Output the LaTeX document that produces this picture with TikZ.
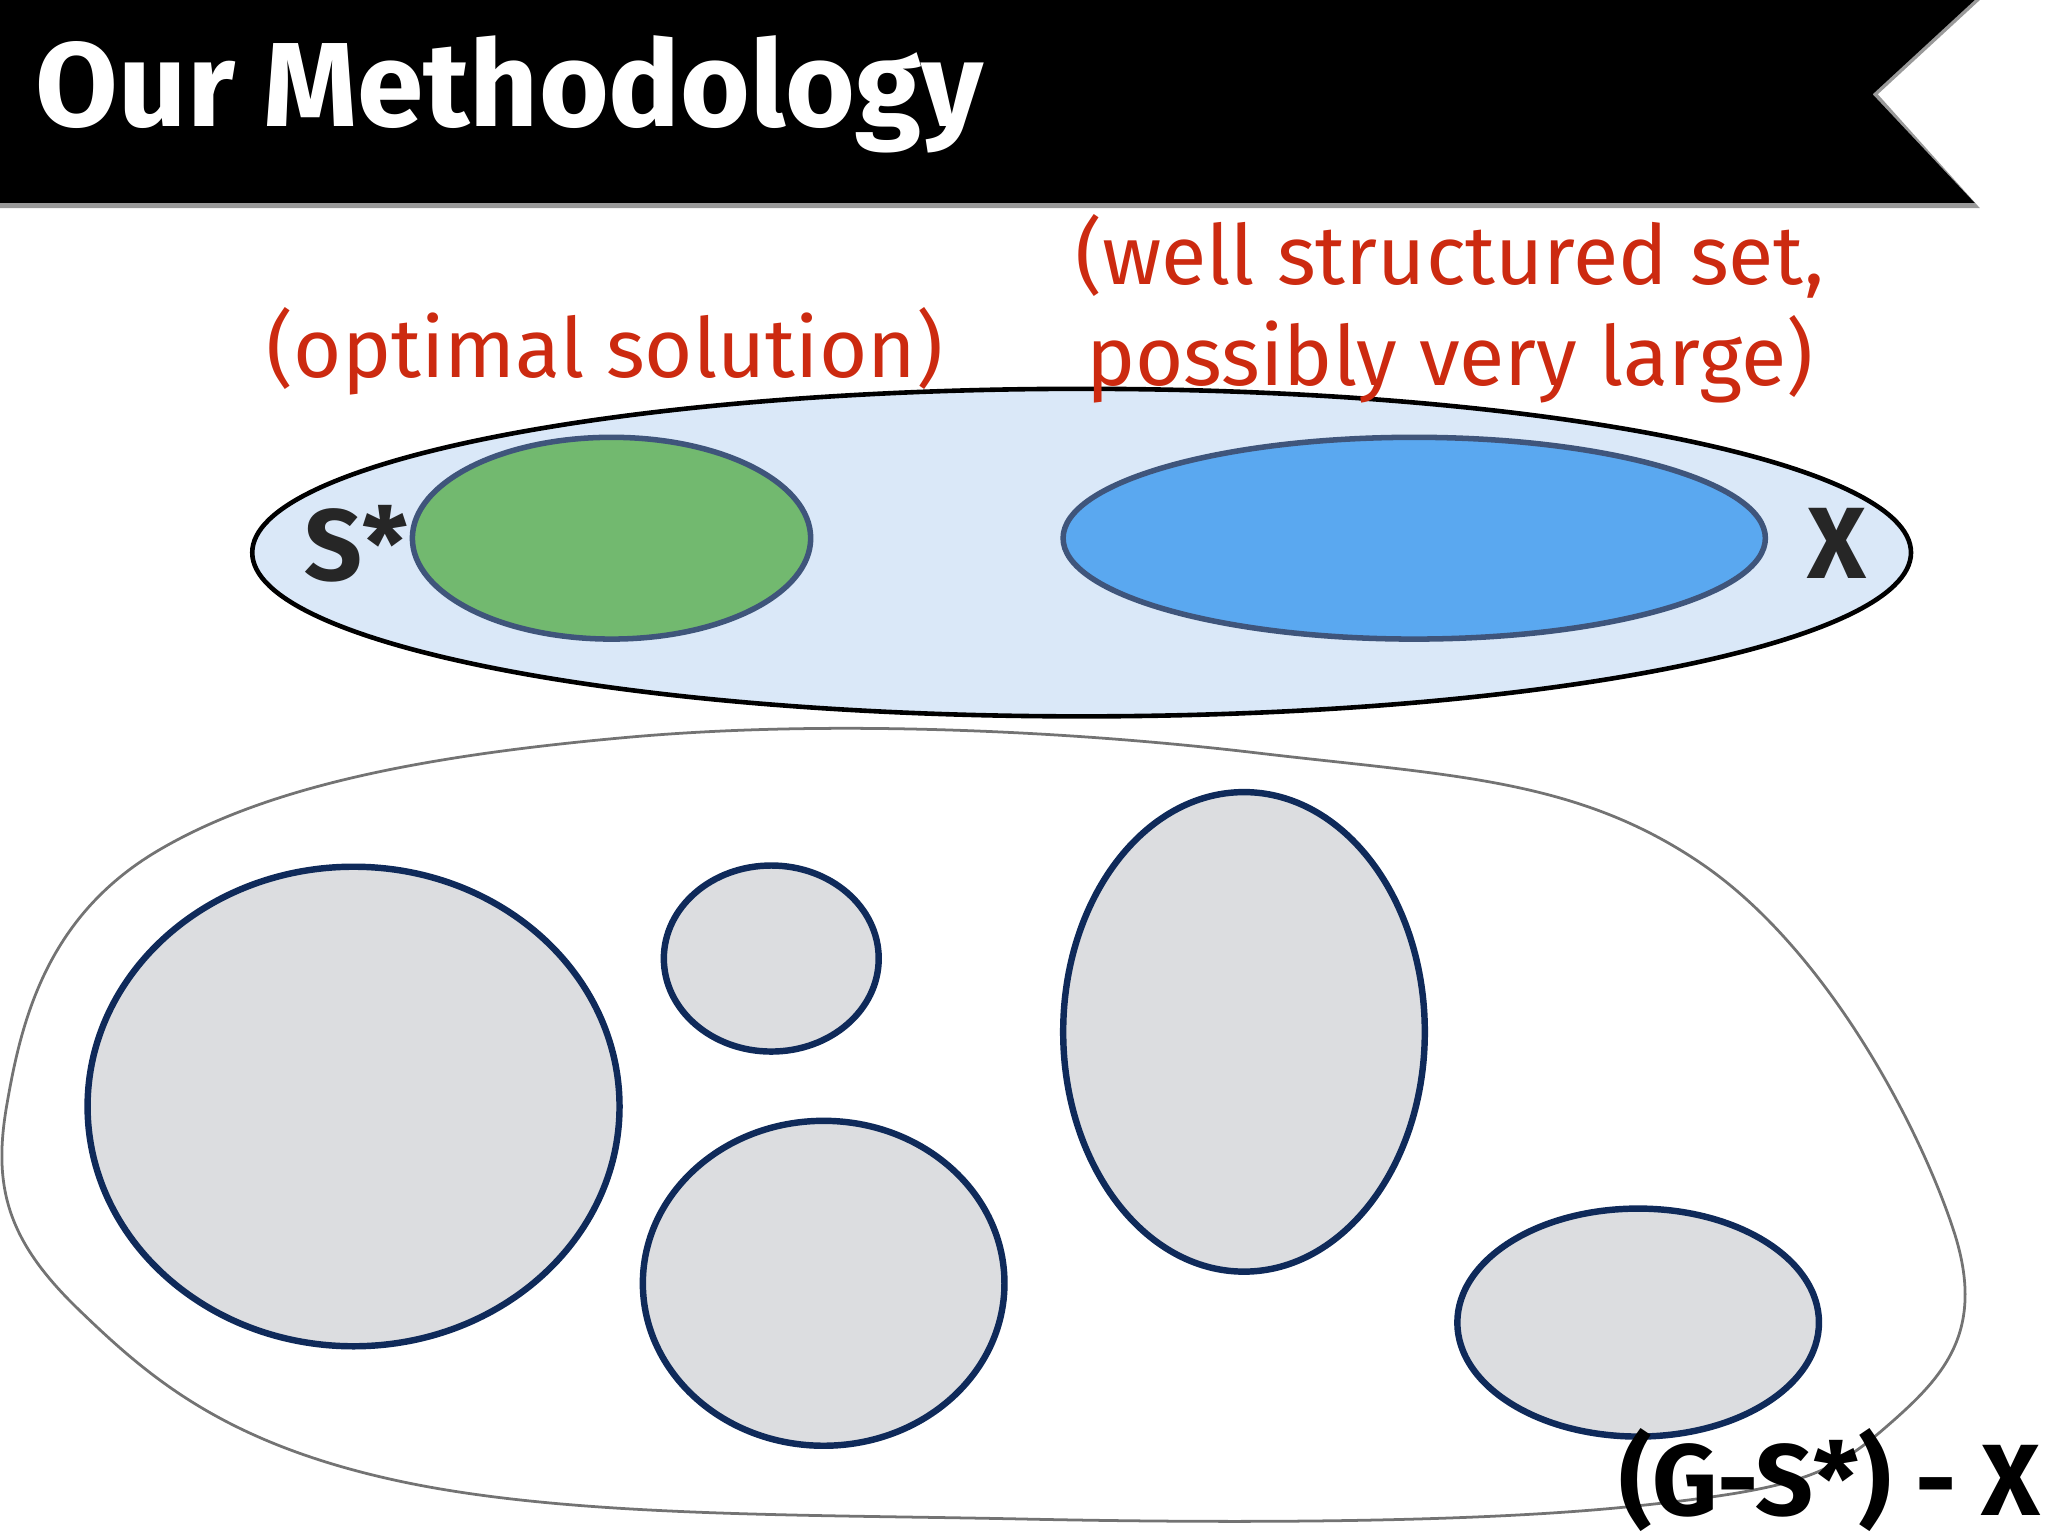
\documentclass[tikz,border=0pt]{standalone}
\usepackage{fontspec}
\setmainfont{Fira Sans}
\usetikzlibrary{positioning, shapes.geometric}
\definecolor{redtext}{HTML}{CC2A10}
\definecolor{setfill}{HTML}{DAE8F8}
\definecolor{optfill}{HTML}{72B96F}
\definecolor{structfill}{HTML}{5AA8F0}
\definecolor{compfill}{HTML}{DCDDE0}
\definecolor{navy}{HTML}{0F2A5A}
\tikzset{
    blob/.style={ellipse, draw=navy, line width=1.4pt, fill=compfill, inner sep=0pt},
    inner/.style={ellipse, draw=navy!80, line width=1.2pt, inner sep=0pt},
    note/.style={text=redtext, font=\fontsize{18}{22}\selectfont, align=center},
    setname/.style={text=black!85, font=\bfseries\fontsize{22}{24}\selectfont},
}
\begin{document}
\begin{tikzpicture}[x=0.01cm, y=-0.01cm]
    \useasboundingbox (0,0) rectangle (1564,1176);

    % title bar
    \fill[black!40] (0,0) -- (1512,0) -- (1434,72) -- (1512,159) -- (0,159) -- cycle;
    \fill[black] (0,0) -- (1508,0) -- (1430,72) -- (1508,155) -- (0,155) -- cycle;
    \node[anchor=west, text=white, font=\bfseries\fontsize{26}{30}\selectfont] (title) at (15,72) {Our Methodology};

    % top: S* inside X
    \node[ellipse, draw=black, line width=1pt, fill=setfill, minimum width=12.66cm, minimum height=2.5cm, inner sep=0pt] (all) at (826,422) {};
    \node[inner, fill=optfill, minimum width=3.04cm, minimum height=1.54cm] (opt) at (467,411) {};
    \node[inner, fill=structfill, minimum width=5.36cm, minimum height=1.54cm] (struct) at (1080,411) {};
    \node[setname] (sstar) at (272,415) {S*};
    \node[setname] (xset) at (1403,415) {X};
    \node[note] (optlabel) at (462,268) {(optimal solution)};
    \node[note] (structlabel) at (1107,236) {(well structured set,\\possibly very large)};

    % bottom: remaining graph
    \draw[black!55, line width=0.6pt] plot[smooth cycle, tension=0.65] coordinates {
        (5,845) (120,650) (480,563) (960,575) (1300,660) (1492,940)
        (1440,1090) (1250,1150) (780,1160) (300,1130) (60,1000)};
    \node[blob, minimum width=4.06cm, minimum height=3.66cm] (c1) at (270,845) {};
    \node[blob, minimum width=1.64cm, minimum height=1.42cm] (c2) at (589,732) {};
    \node[blob, minimum width=2.76cm, minimum height=2.48cm] (c3) at (629,980) {};
    \node[blob, minimum width=2.76cm, minimum height=3.66cm] (c4) at (950,788) {};
    \node[blob, minimum width=2.76cm, minimum height=1.74cm] (c5) at (1251,1010) {};
    \node[setname, text=black, anchor=south east, inner sep=1pt] (rest) at (1562,1174) {(G-S*) - X};
\end{tikzpicture}
\end{document}
